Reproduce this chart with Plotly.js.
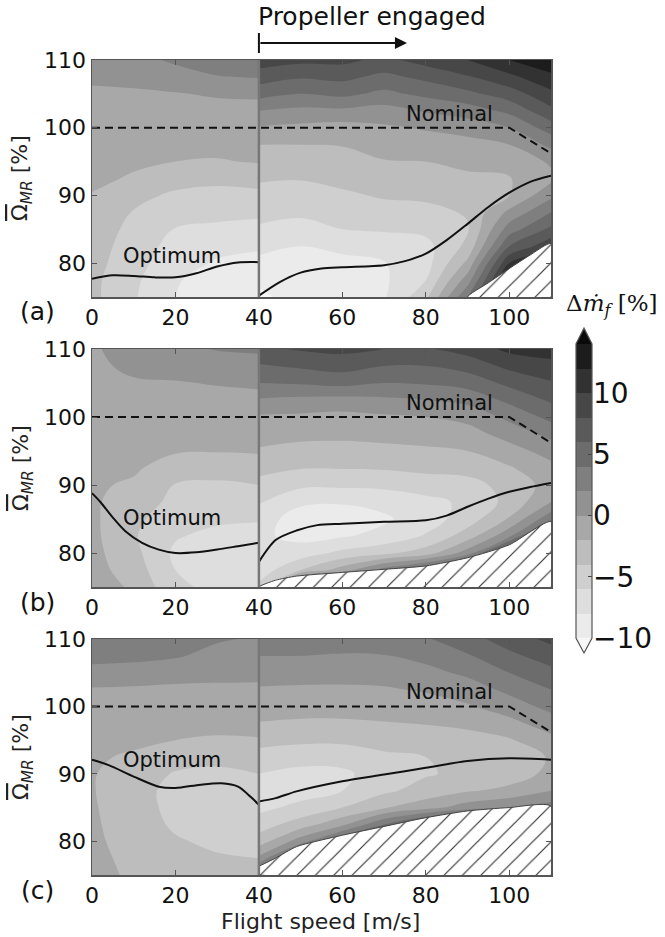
<!DOCTYPE html>
<html><head><meta charset="utf-8">
<script src="https://cdn.plot.ly/plotly-3.0.1.min.js"></script>
<style>html,body{margin:0;padding:0;background:#fff;} #chart{width:665px;height:937px;}</style>
</head><body><div id="chart"></div>
<script>
// ---------- grids ----------
const speedLeft = [0, 10, 20, 30, 40];
const speedRight = [40, 50, 60, 70, 80, 90, 100, 110];
const omegaGrid = [75, 77.5, 80, 82.5, 85, 87.5, 90, 92.5, 95, 97.5, 100, 102.5, 105, 107.5, 110];

// ---------- fuel-flow change [%] (rows = omegaGrid, cols = speed) ----------
const zA_left = [
  [-3.5, -5.8, -8.0, -9.5, -9.2],
  [-3.5, -5.6, -7.8, -9.0, -9.0],
  [-3.3, -5.2, -7.3, -8.2, -8.5],
  [-3.2, -4.8, -6.8, -7.5, -7.8],
  [-3.0, -4.5, -6.1, -6.5, -6.8],
  [-2.8, -4.1, -5.0, -5.3, -5.5],
  [-2.1, -3.5, -4.3, -4.5, -4.6],
  [-1.6, -2.2, -3.3, -3.6, -3.0],
  [-1.3, -1.7, -2.0, -2.1, -1.9],
  [-1.0, -1.3, -1.5, -1.6, -1.6],
  [-0.7, -0.9, -1.1, -1.2, -1.3],
  [-0.4, -0.5, -0.6, -0.6, -0.8],
  [-0.3, -0.2, -0.1, 0.2, 0.4],
  [0.3, 0.4, 1.0, 1.9, 2.1],
  [1.2, 1.2, 2.4, 3.0, 3.2]
];
const zA_right = [
  [-10.5, -9.0, -8.3, -8.2, -4.5, 4.0, 14, 12],
  [-9.6, -9.8, -8.8, -8.3, -6.0, 1.0, 13, 12],
  [-8.6, -9.5, -8.9, -8.1, -6.8, -1.5, 10, 11],
  [-7.3, -8.0, -7.2, -7.0, -6.6, -3.5, 6.0, 9.5],
  [-6.3, -6.8, -6.0, -5.8, -5.5, -4.2, 3.0, 6.5],
  [-5.3, -5.6, -5.2, -4.7, -4.6, -3.8, 0.5, 4.0],
  [-4.6, -4.8, -4.3, -3.8, -3.6, -3.0, -2.0, 1.5],
  [-3.8, -3.9, -3.5, -3.1, -2.9, -2.3, -2.1, -0.5],
  [-2.9, -3.0, -2.8, -2.1, -2.0, -1.6, -1.5, 0.3],
  [-2.0, -2.0, -1.9, -1.3, -1.0, -0.7, 0.0, 2.5],
  [-0.2, -0.5, -0.8, -0.3, 0.2, 0.8, 2.0, 5.0],
  [2.0, 1.5, 1.6, 1.2, 2.2, 3.0, 4.5, 7.5],
  [4.8, 4.0, 4.5, 3.5, 4.5, 5.5, 7.0, 9.5],
  [7.0, 6.2, 6.5, 5.5, 6.5, 7.8, 9.5, 11.5],
  [9.0, 8.5, 8.5, 7.5, 8.8, 10.0, 12.0, 13.5]
];
const zB_left = [
  [-1.0, -2.3, -5.6, -6.5, -6.6],
  [-1.2, -3.0, -6.0, -7.0, -7.0],
  [-1.4, -3.4, -6.4, -7.1, -7.2],
  [-1.5, -3.8, -5.8, -6.6, -6.8],
  [-1.6, -3.6, -5.0, -5.6, -5.8],
  [-1.7, -3.0, -4.5, -4.8, -4.9],
  [-1.7, -2.3, -4.1, -4.3, -4.0],
  [-1.5, -1.7, -3.0, -3.2, -3.0],
  [-1.2, -1.3, -1.8, -1.9, -1.8],
  [-0.9, -1.0, -1.3, -1.4, -1.4],
  [-0.7, -0.7, -0.9, -1.0, -1.0],
  [-0.6, -0.4, -0.4, -0.5, -0.5],
  [-0.5, -0.2, -0.1, 0.1, 0.3],
  [-0.4, 0.4, 0.6, 1.1, 1.2],
  [-0.3, 1.0, 1.6, 2.1, 2.3]
];
const zB_right = [
  [-5.5, 8, 10, 10, 10, 12, 14, 14],
  [-7.2, -4.0, -1.0, 3.0, 6.0, 10, 13, 14],
  [-7.8, -7.0, -5.5, -4.5, -3.0, 1.0, 10, 13],
  [-7.6, -8.6, -8.2, -7.4, -5.8, -3.0, 1.5, 11],
  [-7.0, -9.0, -9.1, -8.3, -7.0, -5.0, -1.8, 3.5],
  [-5.8, -7.6, -7.8, -7.4, -6.6, -5.6, -3.4, 0.0],
  [-4.6, -5.6, -5.6, -5.5, -5.0, -4.7, -3.3, -1.2],
  [-3.4, -3.9, -3.9, -3.8, -3.5, -3.3, -2.2, -0.6],
  [-2.2, -2.6, -2.6, -2.5, -2.3, -2.0, -0.8, 0.8],
  [-1.3, -1.5, -1.6, -1.4, -1.2, -0.8, 0.8, 2.6],
  [-0.3, -0.4, -0.6, -0.3, 0.0, 0.6, 2.5, 4.6],
  [1.8, 1.5, 1.3, 1.6, 2.0, 2.6, 4.5, 6.3],
  [4.0, 4.2, 4.6, 4.0, 4.2, 4.8, 6.5, 7.8],
  [5.8, 6.3, 6.8, 6.0, 6.0, 6.8, 8.5, 9.3],
  [7.6, 8.2, 8.5, 8.0, 7.8, 8.8, 10.5, 11.0]
];
const zC_left = [
  [-1.2, -2.4, -2.6, -3.0, -3.5],
  [-1.4, -2.6, -3.2, -3.8, -4.0],
  [-1.6, -2.8, -3.8, -4.4, -4.4],
  [-1.7, -3.0, -4.3, -4.9, -4.8],
  [-1.8, -3.1, -4.6, -5.1, -5.2],
  [-1.9, -3.0, -4.8, -5.2, -4.9],
  [-1.9, -2.7, -4.2, -4.6, -4.0],
  [-1.8, -2.2, -3.0, -3.2, -2.9],
  [-1.6, -1.7, -2.0, -2.2, -2.1],
  [-1.3, -1.3, -1.4, -1.5, -1.5],
  [-1.0, -1.0, -1.0, -1.0, -1.0],
  [-0.2, -0.3, -0.4, -0.4, -0.4],
  [1.4, 1.2, 0.8, 0.6, 0.5],
  [2.6, 2.5, 2.2, 1.4, 1.2],
  [3.2, 3.1, 2.9, 2.2, 1.8]
];
const zC_right = [
  [6, 12, 12, 12, 12, 12, 12, 12],
  [0.5, 8, 10, 12, 12, 12, 12, 12],
  [-3.0, 1.0, 6, 10, 11, 12, 12, 12],
  [-5.0, -3.0, -0.5, 4, 8, 10, 11, 11],
  [-6.5, -5.5, -4.0, -2.2, -0.8, 1.0, 2.0, 3.0],
  [-6.8, -6.8, -6.0, -4.4, -3.2, -2.2, -1.5, 0.0],
  [-6.0, -6.6, -6.4, -5.0, -4.2, -3.5, -3.0, -1.5],
  [-4.8, -5.2, -5.2, -4.4, -4.0, -3.7, -3.3, -1.8],
  [-3.3, -3.6, -3.6, -3.2, -3.0, -2.8, -2.2, -0.6],
  [-2.1, -2.3, -2.3, -2.1, -1.9, -1.5, -0.6, 1.0],
  [-1.0, -1.2, -1.2, -1.1, -0.8, -0.2, 1.0, 2.6],
  [-0.2, -0.3, -0.3, -0.2, 0.2, 1.0, 2.5, 4.0],
  [0.9, 0.8, 0.7, 0.8, 1.4, 2.4, 4.0, 5.4],
  [2.0, 2.0, 1.8, 1.9, 2.6, 3.8, 5.5, 7.0],
  [3.4, 3.6, 3.2, 3.2, 3.8, 5.2, 7.0, 8.5]
];

// ---------- lines ----------
const nominalX = [0, 100, 110];
const nominalY = [100, 100, 96.2];

const optA_leftX = [0, 5, 10, 15, 20, 25, 30, 35, 40];
const optA_leftY = [77.7, 78.2, 78.1, 77.9, 77.9, 78.5, 79.5, 80.1, 80.15];
const optA_rightX = [40, 45, 50, 55, 60, 70, 75, 80, 85, 90, 95, 100, 105, 110];
const optA_rightY = [75.2, 77.2, 78.6, 79.2, 79.4, 79.7, 80.3, 81.4, 83.4, 85.8, 88.3, 90.4, 92.0, 92.9];

const optB_leftX = [0, 2, 5, 8, 12, 16, 20, 25, 30, 35, 40];
const optB_leftY = [88.8, 87.5, 85.2, 83.2, 81.5, 80.5, 80.0, 80.1, 80.5, 81.0, 81.5];
const optB_rightX = [40, 44, 49, 54, 60, 70, 80, 85, 90, 95, 100, 105, 110];
const optB_rightY = [78.7, 81.9, 83.3, 84.1, 84.3, 84.6, 84.8, 85.5, 86.8, 88.0, 89.0, 89.7, 90.3];

const optC_leftX = [0, 4, 10, 16, 20, 26, 31, 35, 38, 40];
const optC_leftY = [92.1, 91.3, 89.6, 88.1, 87.9, 88.4, 88.6, 88.1, 86.6, 85.4];
const optC_rightX = [40, 44, 49, 60, 70, 80, 90, 100, 110];
const optC_rightY = [85.9, 86.4, 87.4, 88.9, 89.9, 90.9, 91.9, 92.3, 92.1];

// infeasible (hatched) region boundaries
const hatchA_X = [90, 95, 100, 105, 110];
const hatchA_Y = [75, 77.1, 79.2, 81.2, 82.9];
const hatchB_X = [40, 44, 49, 59, 70, 80, 90, 100, 110];
const hatchB_Y = [75, 76.0, 76.6, 77.1, 77.6, 78.1, 79.3, 81.2, 84.6];
const hatchC_X = [40, 44, 49, 60, 70, 80, 90, 100, 110];
const hatchC_Y = [76.3, 77.5, 79.2, 80.9, 82.2, 83.5, 84.5, 85.0, 85.2];

// ---------- ticks / levels ----------
const xTickVals = [0, 20, 40, 60, 80, 100];
const yTickVals = [80, 90, 100, 110];
const cbTickVals = [-10, -5, 0, 5, 10];
const levelStart = -10, levelEnd = 14, levelStep = 2;
const bandMids = [-9, -7, -5, -3, -1, 1, 3, 5, 7, 9, 11, 13];
const bandColors = ['#f7f7f7', '#ebebeb', '#dedede', '#cfcfcf', '#bdbdbd', '#a8a8a8', '#929292',
                    '#7f7f7f', '#6c6c6c', '#5a5a5a', '#474747', '#323232', '#1c1c1c', '#0a0a0a'];

// ---------- build ----------
const FONT = 'DejaVu Sans';
const colorscale = bandColors.map((c, k) => [k / (bandColors.length - 1), c]);

function contourTrace(x, z, xa, ya) {
  return {
    type: 'contour', x: x, y: omegaGrid, z: z, xaxis: xa, yaxis: ya,
    autocontour: false,
    contours: {start: levelStart, end: levelEnd, size: levelStep, coloring: 'fill', showlines: false},
    line: {width: 0, smoothing: 1.1},
    colorscale: colorscale, showscale: false, hoverinfo: 'skip'
  };
}
function lineTrace(x, y, xa, ya, dash) {
  return {type: 'scatter', mode: 'lines', x: x, y: y, xaxis: xa, yaxis: ya,
    line: {color: '#111', width: 2, dash: dash || 'solid', shape: dash ? 'linear' : 'spline', smoothing: 0.8},
    hoverinfo: 'skip', showlegend: false};
}
function hatchTrace(hx, hy, xa, ya) {
  const x = hx.concat([hx[hx.length - 1], hx[0]]);
  const y = hy.concat([omegaGrid[0], omegaGrid[0]]);
  return {type: 'scatter', mode: 'lines', x: x, y: y, xaxis: xa, yaxis: ya,
    fill: 'toself', fillcolor: 'white',
    fillpattern: {shape: '/', bgcolor: 'white', fgcolor: '#333', size: 13, solidity: 0.09, fillmode: 'replace'},
    line: {color: '#444', width: 1, shape: 'spline', smoothing: 0.6},
    hoverinfo: 'skip', showlegend: false};
}

const panels = [
  {xa: 'x', ya: 'y', zl: zA_left, zr: zA_right, ol: [optA_leftX, optA_leftY], or: [optA_rightX, optA_rightY], h: [hatchA_X, hatchA_Y]},
  {xa: 'x2', ya: 'y2', zl: zB_left, zr: zB_right, ol: [optB_leftX, optB_leftY], or: [optB_rightX, optB_rightY], h: [hatchB_X, hatchB_Y]},
  {xa: 'x3', ya: 'y3', zl: zC_left, zr: zC_right, ol: [optC_leftX, optC_leftY], or: [optC_rightX, optC_rightY], h: [hatchC_X, hatchC_Y]}
];

const data = [];
panels.forEach(p => {
  data.push(contourTrace(speedLeft, p.zl, p.xa, p.ya));
  data.push(contourTrace(speedRight, p.zr, p.xa, p.ya));
  data.push(hatchTrace(p.h[0], p.h[1], p.xa, p.ya));
  data.push(lineTrace(nominalX, nominalY, p.xa, p.ya, '8px,5px'));
  data.push(lineTrace(p.ol[0], p.ol[1], p.xa, p.ya));
  data.push(lineTrace(p.or[0], p.or[1], p.xa, p.ya));
});
// colorbar as its own heatmap
data.push({type: 'heatmap', x: [0], y: bandMids, z: bandMids.map(v => [v]), xaxis: 'x4', yaxis: 'y4',
  colorscale: colorscale, zmin: levelStart - levelStep / 2, zmax: levelEnd + levelStep / 2,
  showscale: false, hoverinfo: 'skip'});

const H = 937, W = 665;
const py = v => 1 - v / H, px = v => v / W;
const xDom = [px(92), px(551)];
const yDoms = [[py(297), py(60)], [py(587), py(349)], [py(875), py(639)]];

function xAxis(anchor) {
  return {domain: xDom, anchor: anchor, range: [0, 110], tickmode: 'array', tickvals: xTickVals,
    ticks: 'inside', ticklen: 5, tickwidth: 1, tickcolor: '#555', showline: true, linecolor: '#555', linewidth: 1.5,
    mirror: 'ticks', showgrid: false, zeroline: false, tickfont: {family: FONT, size: 22, color: '#111'}, fixedrange: true};
}
function yAxis(anchor, dom) {
  return {domain: dom, anchor: anchor, range: [75, 110], tickmode: 'array', tickvals: yTickVals,
    ticks: 'inside', ticklen: 5, tickwidth: 1, tickcolor: '#555', showline: true, linecolor: '#555', linewidth: 1.5,
    mirror: 'ticks', showgrid: false, zeroline: false, tickfont: {family: FONT, size: 22, color: '#111'}, fixedrange: true};
}

const annotations = [];
const labelY = [312, 602, 890];
const titleY = [178, 468, 757];
const nominalAnnY = [102.0, 102.0, 102.2];
const optimumAnnY = [81.0, 85.1, 92.1];
['(a)', '(b)', '(c)'].forEach((t, i) => {
  annotations.push({xref: 'paper', yref: 'paper', x: px(37), y: py(labelY[i]), text: t, showarrow: false,
    font: {family: FONT, size: 25, color: '#111'}, xanchor: 'center', yanchor: 'middle'});
  annotations.push({xref: 'paper', yref: 'paper', x: px(22), y: py(titleY[i]), textangle: -90,
    text: '<span style="text-decoration:overline">Ω</span><sub><i>MR</i></sub> [%]', showarrow: false,
    font: {family: FONT, size: 22, color: '#222'}, xanchor: 'center', yanchor: 'middle'});
  const xr = i === 0 ? 'x' : 'x' + (i + 1), yr = i === 0 ? 'y' : 'y' + (i + 1);
  annotations.push({xref: xr, yref: yr, x: 85.7, y: nominalAnnY[i], text: 'Nominal', showarrow: false,
    font: {family: FONT, size: 21, color: '#111'}, xanchor: 'center', yanchor: 'middle'});
  annotations.push({xref: xr, yref: yr, x: 19.2, y: optimumAnnY[i], text: 'Optimum', showarrow: false,
    font: {family: FONT, size: 21, color: '#111'}, xanchor: 'center', yanchor: 'middle'});
});
annotations.push({xref: 'paper', yref: 'paper', x: px(320), y: py(921), text: 'Flight speed [m/s]', showarrow: false,
  font: {family: FONT, size: 22, color: '#222'}, xanchor: 'center', yanchor: 'middle'});
annotations.push({xref: 'x', yref: 'paper', x: 39.3, y: py(16), text: 'Propeller engaged', showarrow: false,
  font: {family: FONT, size: 25, color: '#111'}, xanchor: 'left', yanchor: 'middle'});
annotations.push({xref: 'x', yref: 'paper', x: 75.5, y: py(43), axref: 'x', ax: 40, ayref: 'pixel', ay: 0,
  text: '', showarrow: true, arrowhead: 2, arrowsize: 1.1, arrowwidth: 2.2, arrowcolor: '#111', standoff: 0, startstandoff: 0});
annotations.push({xref: 'paper', yref: 'paper', x: px(612), y: py(305),
  text: 'Δ<i>ṁ</i><sub><i>f</i></sub> [%]', showarrow: false,
  font: {family: 'DejaVu Serif', size: 23, color: '#111'}, xanchor: 'center', yanchor: 'middle'});

const shapes = [];
panels.forEach(p => {
  shapes.push({type: 'line', xref: p.xa, yref: p.ya + ' domain', x0: 40, x1: 40, y0: 0, y1: 1,
    line: {color: '#777', width: 2.5}});
});
shapes.push({type: 'line', xref: 'x', yref: 'paper', x0: 40, x1: 40, y0: py(53), y1: py(33), line: {color: '#111', width: 2}});
shapes.push({type: 'path', xref: 'x4 domain', yref: 'y4 domain', path: 'M 0 1 L 0.5 1.054 L 1 1 Z',
  fillcolor: bandColors[bandColors.length - 1], line: {width: 0}});
shapes.push({type: 'path', xref: 'x4 domain', yref: 'y4 domain', path: 'M 0 0 L 0.5 -0.051 L 1 0 Z',
  fillcolor: bandColors[0], line: {width: 0}});
shapes.push({type: 'path', xref: 'x4 domain', yref: 'y4 domain',
  path: 'M 0 0 L 0 1 L 0.5 1.054 L 1 1 L 1 0 L 0.5 -0.051 Z', line: {color: '#555', width: 1.2}});

const layout = {
  width: W, height: H, margin: {l: 0, r: 0, t: 0, b: 0}, paper_bgcolor: 'white', plot_bgcolor: 'white',
  showlegend: false, font: {family: FONT},
  xaxis: xAxis('y'), yaxis: yAxis('x', yDoms[0]),
  xaxis2: xAxis('y2'), yaxis2: yAxis('x2', yDoms[1]),
  xaxis3: xAxis('y3'), yaxis3: yAxis('x3', yDoms[2]),
  xaxis4: {domain: [px(576), px(592)], anchor: 'y4', range: [-0.5, 0.5], visible: false, fixedrange: true},
  yaxis4: {domain: [py(638), py(344)], anchor: 'x4', side: 'right', range: [levelStart, levelEnd], tickmode: 'array',
    tickvals: cbTickVals, ticks: 'inside', ticklen: 4, tickcolor: '#444', showline: false, showgrid: false, zeroline: false,
    tickfont: {family: FONT, size: 28, color: '#111'}, fixedrange: true},
  annotations: annotations, shapes: shapes
};

Plotly.newPlot('chart', data, layout, {staticPlot: true, displayModeBar: false});
</script></body></html>
